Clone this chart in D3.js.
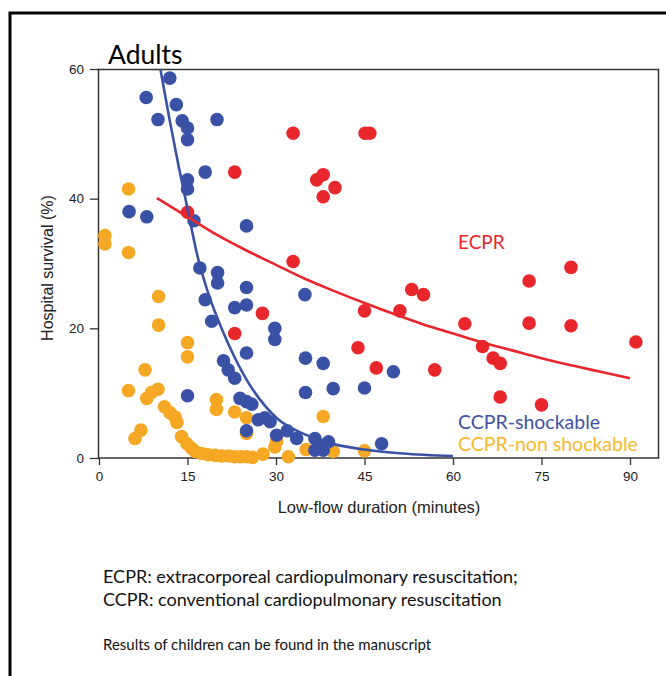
<!DOCTYPE html>
<html>
<head>
<meta charset="utf-8">
<script src="https://cdn.jsdelivr.net/npm/d3@7"></script>
<style>
  body { margin: 0; background: #fff; }
  svg { display: block; }
</style>
</head>
<body>
<div id="chart"></div>
<script>
// survival (%) against low-flow duration (minutes)
const ecpr = [
  [15.0, 37.9], [23.0, 44.1], [32.9, 50.1], [45.1, 50.1], [45.9, 50.1],
  [38.0, 43.7], [36.9, 42.9], [40.0, 41.7], [38.0, 40.3], [32.9, 30.3],
  [53.0, 26.0], [55.0, 25.2], [45.0, 22.7], [51.0, 22.7], [27.7, 22.3],
  [23.0, 19.2], [43.9, 17.0], [47.0, 13.9], [56.9, 13.6], [62.0, 20.7],
  [72.9, 27.3], [80.0, 29.4], [72.9, 20.8], [80.0, 20.4], [91.0, 17.9],
  [65.0, 17.2], [66.8, 15.4], [68.0, 14.6], [68.0, 9.4], [75.0, 8.2]
];

const ccprShock = [
  [12.0, 58.6], [8.0, 55.6], [13.1, 54.5], [10.0, 52.2], [14.1, 52.0],
  [15.0, 50.9], [15.0, 49.1], [20.0, 52.2], [18.0, 44.1], [15.0, 42.9],
  [15.0, 41.5], [5.1, 38.0], [8.1, 37.2], [16.1, 36.6], [25.0, 35.8],
  [17.1, 29.3], [20.1, 28.6], [20.1, 27.0], [25.0, 26.3], [18.0, 24.4],
  [23.0, 23.2], [25.0, 23.6], [19.1, 21.1], [29.8, 20.0], [29.8, 18.3],
  [25.0, 16.2], [21.1, 15.0], [21.9, 13.6], [23.0, 12.3], [15.0, 9.6],
  [23.9, 9.2], [25.0, 8.7], [25.9, 8.3], [27.0, 5.9], [28.1, 6.2],
  [29.0, 5.6], [25.0, 4.2], [30.1, 3.5], [31.9, 4.2], [33.5, 3.0],
  [36.6, 3.0], [37.5, 2.0], [38.9, 2.5], [36.6, 1.2], [38.0, 1.2],
  [34.9, 25.2], [35.0, 15.4], [38.0, 14.6], [49.9, 13.3], [35.0, 10.1],
  [39.7, 10.7], [45.0, 10.8], [47.9, 2.2]
];

const ccprNonShock = [
  [5.0, 41.5], [1.0, 34.3], [1.0, 33.0], [5.0, 31.7], [10.1, 24.9],
  [10.1, 20.5], [15.0, 17.8], [15.0, 15.6], [7.8, 13.6], [5.0, 10.4],
  [8.1, 9.2], [8.9, 10.1], [10.0, 10.6], [11.1, 7.9], [12.0, 7.0],
  [12.9, 6.3], [13.2, 5.5], [7.1, 4.3], [6.1, 3.0], [14.0, 3.3],
  [14.9, 2.2], [15.7, 1.5], [16.3, 1.0], [17.4, 0.7], [18.5, 0.5],
  [19.7, 0.4], [20.8, 0.3], [22.0, 0.3], [23.0, 0.2], [24.0, 0.2],
  [25.0, 0.2], [26.0, 0.1], [19.9, 9.0], [19.9, 7.5], [23.0, 7.1],
  [25.0, 6.2], [25.0, 3.8], [30.1, 2.5], [29.8, 1.7], [27.8, 0.6],
  [32.1, 0.2], [35.1, 1.3], [38.0, 6.4], [39.7, 1.0], [45.0, 1.1]
];

// fitted curves, points
const ecprFit = [
  [9.8, 40.1], [15, 37.2], [20, 34.4], [25, 32.0], [30, 29.8], [35, 27.6],
  [40, 25.7], [45, 23.9], [50, 22.2], [55, 20.6], [60, 19.2], [65, 17.8],
  [70, 16.6], [75, 15.4], [80, 14.3], [85, 13.3], [90, 12.3]
];
const shockFit = [
  [10.4, 60], [12, 52], [13.5, 45], [15, 38.5], [16.6, 31.5], [18.3, 26],
  [21, 19.5], [23, 15.5], [25.6, 11.2], [28, 8.2], [30.2, 6.1], [35, 3.6],
  [40, 2.1], [45, 1.3], [51.5, 0.7], [60, 0.3]
];

const xTicks = [0, 15, 30, 45, 60, 75, 90];
const yTicks = [0, 20, 40, 60];

const W = 666, H = 676;
const red = '#e8262b', blue = '#3a52a5', orange = '#f6a724';

const svg = d3.select('#chart').append('svg').attr('width', W).attr('height', H);

// outer frame
svg.append('rect').attr('x', 10).attr('y', 13).attr('width', 700).attr('height', 700)
  .attr('fill', 'none').attr('stroke', '#000').attr('stroke-width', 3);

const xScale = d3.scaleLinear().domain([0, 90]).range([99, 630]);
const yScale = d3.scaleLinear().domain([0, 60]).range([458, 69]);

// plot box
svg.append('rect').attr('x', 98.5).attr('y', 69.5).attr('width', 560).attr('height', 388.5)
  .attr('fill', 'none').attr('stroke', '#333').attr('stroke-width', 1.5);

const xAxis = d3.axisBottom(xScale).tickValues(xTicks).tickSize(7).tickPadding(6);
const yAxis = d3.axisLeft(yScale).tickValues(yTicks).tickSize(9).tickPadding(6);

const axisFont = '"Liberation Sans", Arial, sans-serif';
const gx = svg.append('g').attr('transform', 'translate(0,458)').call(xAxis);
const gy = svg.append('g').attr('transform', 'translate(99,0)').call(yAxis);
[gx, gy].forEach(g => {
  g.select('.domain').remove();
  g.selectAll('line').attr('stroke', '#333').attr('stroke-width', 1.3);
  g.selectAll('text').attr('fill', '#222')
    .style('font-family', axisFont).style('font-size', '13.5px');
});

svg.append('text').attr('x', 379).attr('y', 513).attr('text-anchor', 'middle')
  .style('font-family', axisFont).style('font-size', '16.5px').attr('fill', '#222')
  .text('Low-flow duration (minutes)');
svg.append('text').attr('transform', 'translate(53,268) rotate(-90)').attr('text-anchor', 'middle')
  .style('font-family', axisFont).style('font-size', '16px').attr('fill', '#222')
  .text('Hospital survival (%)');

const dots = (data, color) => svg.append('g').selectAll('circle').data(data).enter()
  .append('circle')
  .attr('cx', d => xScale(d[0]))
  .attr('cy', d => yScale(d[1]))
  .attr('r', 6.8)
  .attr('fill', color);

dots(ccprNonShock, orange);
dots(ccprShock, blue);
dots(ecpr, red);

const line = d3.line().x(d => xScale(d[0])).y(d => yScale(d[1])).curve(d3.curveMonotoneX);
svg.append('path').datum(shockFit).attr('d', line).attr('fill', 'none')
  .attr('stroke', blue).attr('stroke-width', 2.6);
svg.append('path').datum(ecprFit).attr('d', line).attr('fill', 'none')
  .attr('stroke', red).attr('stroke-width', 2.6);

const cal = 'Lato, "Open Sans", sans-serif';
svg.append('text').attr('x', 108).attr('y', 64).style('font-family', cal)
  .style('font-size', '26.5px').attr('fill', '#000').text('Adults');

svg.append('text').attr('x', 458).attr('y', 249).style('font-family', cal)
  .style('font-size', '19px').attr('fill', red).text('ECPR');
svg.append('text').attr('x', 458).attr('y', 428.5).style('font-family', cal)
  .style('font-size', '19.5px').attr('fill', '#4152a6').text('CCPR-shockable');
svg.append('text').attr('x', 458).attr('y', 450.5).style('font-family', cal)
  .style('font-size', '19.5px').attr('fill', '#fbb82a').text('CCPR-non shockable');

svg.append('text').attr('x', 103).attr('y', 583).style('font-family', cal)
  .style('font-size', '18px').attr('fill', '#111')
  .text('ECPR: extracorporeal cardiopulmonary resuscitation;');
svg.append('text').attr('x', 103).attr('y', 606).style('font-family', cal)
  .style('font-size', '18px').attr('fill', '#111')
  .text('CCPR: conventional cardiopulmonary resuscitation');
svg.append('text').attr('x', 103).attr('y', 650).style('font-family', cal)
  .style('font-size', '15px').attr('fill', '#111')
  .text('Results of children can be found in the manuscript');
</script>
</body>
</html>
